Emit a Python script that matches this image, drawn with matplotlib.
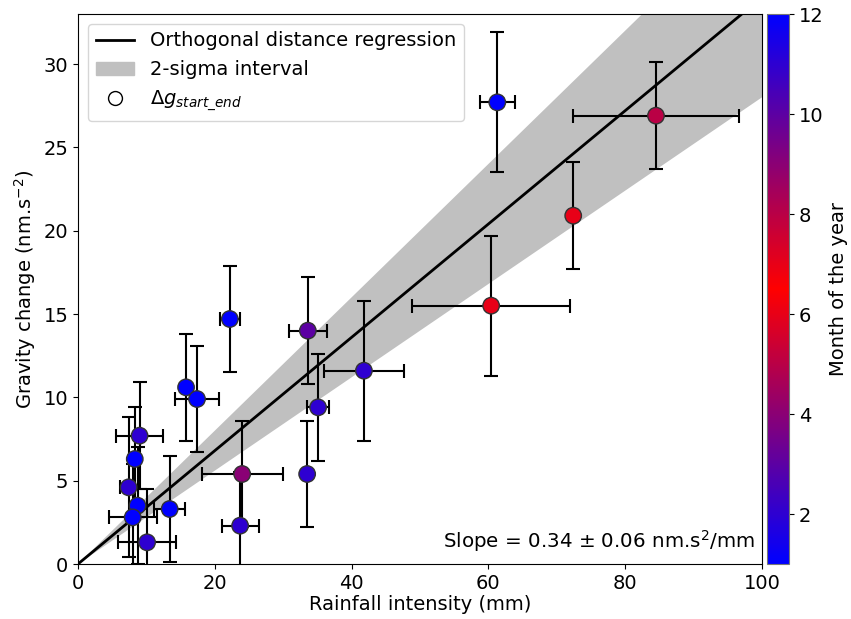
import matplotlib.pyplot as plt
import numpy as np
from matplotlib.colors import LinearSegmentedColormap
from matplotlib.lines import Line2D
from matplotlib.patches import Patch

# data
rain = [61.3, 84.5, 72.4, 60.4, 22.2, 33.6, 41.8, 35.1, 33.5, 24.0,
        23.7, 15.8, 17.4, 9.0, 8.3, 7.4, 8.7, 8.0, 10.1, 13.4]
grav = [27.7, 26.9, 20.9, 15.5, 14.7, 14.0, 11.6, 9.4, 5.4, 5.4,
        2.3, 10.6, 9.9, 7.7, 6.3, 4.6, 3.5, 2.8, 1.3, 3.3]
rain_err = [2.6, 12.1, 0, 11.5, 1.5, 2.8, 5.8, 1.6, 0, 5.9,
            2.7, 0, 3.2, 3.4, 0, 1.3, 0, 3.5, 4.2, 2.3]
grav_err = [4.2, 3.2, 3.2, 4.2, 3.2, 3.2, 4.2, 3.2, 3.2, 3.2,
            3.2, 3.2, 3.2, 3.2, 3.1, 4.2, 3.5, 3.2, 3.2, 3.2]
months = [12, 8, 7, 6, 12, 10, 2, 2, 2, 4,
          2, 1, 1, 2, 1, 2, 1, 1, 2, 1]

slope = 0.34
slope_err = 0.06

plt.rcParams['font.size'] = 14

cmap = LinearSegmentedColormap.from_list('brb', ['blue', 'red', 'blue'])

fig = plt.figure(figsize=(8.51, 6.19), dpi=100)
ax = fig.add_axes([78/851, 55/619, 684/851, 550/619])
cax = fig.add_axes([767/851, 55/619, 22/851, 550/619])

xs = np.array([0, 100])
ax.fill_between(xs, (slope - slope_err) * xs, (slope + slope_err) * xs,
                color='#c0c0c0', lw=0, zorder=1)
ax.plot(xs, slope * xs, color='black', lw=2, zorder=2)

ax.errorbar(rain, grav, xerr=rain_err, yerr=grav_err, fmt='none',
            ecolor='black', elinewidth=1.5, capsize=5, capthick=1.5, zorder=3)
sc = ax.scatter(rain, grav, c=months, cmap=cmap, vmin=1, vmax=12, s=140,
                edgecolors='#333333', linewidths=1, zorder=4)

ax.set_xlim(0, 100)
ax.set_ylim(0, 33)
ax.set_xlabel('Rainfall intensity (mm)', labelpad=2)
ax.set_ylabel('Gravity change (nm.s$^{-2}$)', labelpad=4)
ax.text(0.99, 0.018, 'Slope = 0.34 ± 0.06 nm.s$^2$/mm', transform=ax.transAxes,
        ha='right', va='bottom', fontsize=14.3)

handles = [Line2D([], [], color='black', lw=2),
           Patch(color='#c0c0c0'),
           Line2D([], [], marker='o', ls='none', mfc='white', mec='black', ms=10)]
labels = ['Orthogonal distance regression', '2-sigma interval',
          r'$\Delta g_{start\_end}$']
ax.legend(handles, labels, loc='upper left', fontsize=14, borderaxespad=0.5)

cb = fig.colorbar(sc, cax=cax)
cb.set_label('Month of the year')
cb.set_ticks([2, 4, 6, 8, 10, 12])
cb.outline.set_edgecolor('#777777')

fig.savefig('out.png', dpi=100)
